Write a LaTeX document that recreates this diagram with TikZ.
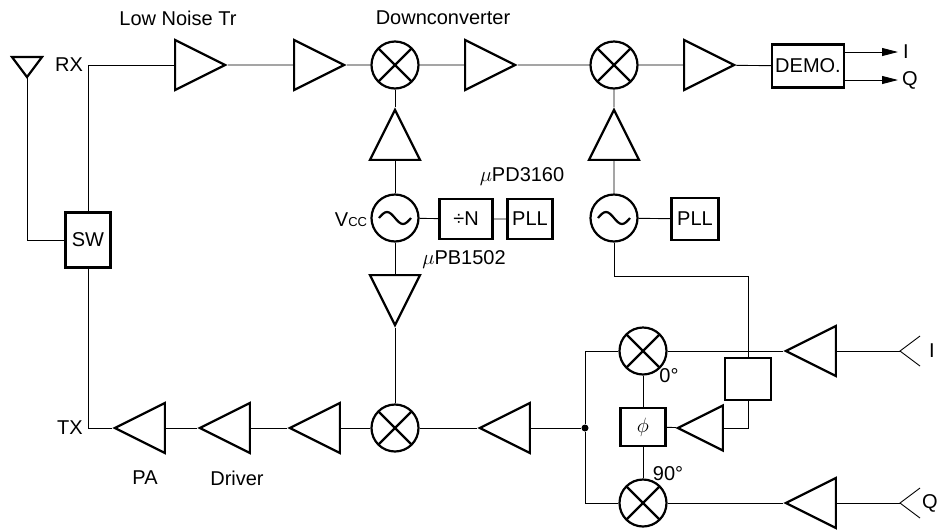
\documentclass[tikz,border=0pt]{standalone}
\usepackage{fontspec}
\setmainfont{Liberation Sans}
\usetikzlibrary{shapes.geometric,arrows.meta}
\tikzset{
  wire/.style={line width=0.9pt},
  amp/.style={draw,isosceles triangle,isosceles triangle stretches,minimum width=50pt,minimum height=50pt,inner sep=0pt,line width=2.2pt,shape border rotate=#1,anchor=apex},
  amp/.default=0,
  mixer/.style={draw,circle,minimum size=47pt,inner sep=0pt,line width=2.2pt,
    path picture={\draw[line width=2.2pt] ([shift={(45:24pt)}]path picture bounding box.center) -- ([shift={(225:24pt)}]path picture bounding box.center)
      ([shift={(135:24pt)}]path picture bounding box.center) -- ([shift={(315:24pt)}]path picture bounding box.center);}},
  osc/.style={draw,circle,minimum size=47pt,inner sep=0pt,line width=2.2pt,
    path picture={\draw[line width=2.2pt,shift={(path picture bounding box.center)}] (-16pt,0pt) sin (-8pt,6pt) cos (0pt,0pt) sin (8pt,-6pt) cos (16pt,0pt);}},
  blk/.style={draw,rectangle,line width=2.2pt,inner sep=0pt},
}
\begin{document}
\begin{tikzpicture}[x=1pt,y=-1pt,font=\fontsize{20}{23}\selectfont]
\useasboundingbox (0,0) rectangle (938,531);
% receive chain (amps placed by their apex)
\node[amp] (lna1) at (228,65) {};
\node[amp] (lna2) at (347,65) {};
\node[mixer] (mix1) at (395,65) {};
\node[amp] (if1) at (518,65) {};
\node[mixer] (mix2) at (614,65) {};
\node[amp] (if2) at (737,65) {};
\node[blk,minimum width=72pt,minimum height=43pt] (demo) at (808,66) {DEMO.};
\coordinate (iout) at (898,52);
\coordinate (qout) at (898,80);
% antenna and switch
\draw[line width=2.2pt] (12,57) -- (42,57) -- (27,77) -- cycle;
\coordinate (ant) at (27,77);
\node[blk,minimum width=45pt,minimum height=55pt] (sw) at (88,240) {SW};
% local oscillators
\node[amp=90] (lo1) at (395,107) {};
\node[osc] (osc1) at (395,218) {};
\node[amp=270] (lo3) at (395,328) {};
\node[blk,minimum width=53pt,minimum height=40pt] (divn) at (466,219) {÷N};
\node[blk,minimum width=45pt,minimum height=40pt] (pll1) at (530,219) {PLL};
\node[amp=90] (lo2) at (614,107) {};
\node[osc] (osc2) at (614,218) {};
\node[blk,minimum width=47pt,minimum height=42pt] (pll2) at (695,219) {PLL};
\coordinate (bend) at (748,276);
% transmit chain
\node[amp=180] (pa) at (112,428) {};
\node[amp=180] (drv) at (197,428) {};
\node[amp=180] (up) at (287,428) {};
\node[mixer] (mix3) at (395,428) {};
\node[amp=180] (bb) at (477,428) {};
\node[circle,fill,inner sep=0pt,minimum size=7pt] (dot) at (585,428) {};
% quadrature modulator
\node[mixer] (mixi) at (643,351) {};
\node[blk,minimum width=45pt,minimum height=38pt] (phi) at (643,427) {$\phi$};
\node[mixer] (mixq) at (643,503) {};
\node[amp=180,minimum width=45pt,minimum height=45pt] (phamp) at (675,428) {};
\node[blk,minimum width=46pt,minimum height=42pt] (sq) at (748,379) {};
\node[amp=180] (ampi) at (783,351) {};
\node[amp=180] (ampq) at (783,503) {};
\coordinate (iin) at (900,351);
\coordinate (qin) at (900,503);
% labels
\node (lnt) at (178,18) {Low Noise Tr};
\node (dcv) at (443,18) {Downconverter};
\node (rx) at (69,65) {RX};
\node (tx) at (70,428) {TX};
\node (pal) at (145,478) {PA};
\node (drl) at (237,478) {Driver};
\node (vcc) at (351,220) {V{\fontsize{13}{13}\selectfont CC}};
\node (pd) at (522,177) {$\mu$PD3160};
\node (pb) at (464,260) {$\mu$PB1502};
\node (deg0) at (669,376) {0°};
\node (deg90) at (668,474) {90°};
\node[anchor=west,inner sep=0pt] (il) at (903,52) {I};
\node[anchor=west,inner sep=0pt] (ql) at (902,80) {Q};
\node[anchor=west,inner sep=0pt] (iil) at (929,351) {I};
\node[anchor=west,inner sep=0pt] (qil) at (922,503) {Q};
% wires
\draw[wire] (ant) |- (sw);
\draw[wire] (sw) |- (lna1);
\draw[wire] (lna1) -- (lna2) -- (mix1) -- (if1) -- (mix2) -- (if2) -- (demo);
\draw[wire,-{Triangle[length=16pt,width=8pt]}] ([yshift=14pt]demo.east) -- (iout);
\draw[wire,-{Triangle[length=16pt,width=8pt]}] ([yshift=-14pt]demo.east) -- (qout);
\draw[wire] (sw) |- (pa);
\draw[wire] (pa) -- (drv) -- (up) -- (mix3) -- (bb) -- (dot);
\draw[wire] (mix1) -- (lo1) -- (osc1) -- (lo3) -- (mix3);
\draw[wire] (osc1) -- (divn) -- (pll1);
\draw[wire] (mix2) -- (lo2) -- (osc2) -- (pll2);
\draw[wire] (osc2) |- (bend) -- (sq);
\draw[wire] (sq) |- (phamp);
\draw[wire] (phamp) -- (phi);
\draw[wire] (mixi) -- (phi) -- (mixq);
\draw[wire] (dot) |- (mixi);
\draw[wire] (dot) |- (mixq);
\draw[wire] (mixi) -- (ampi) -- (iin);
\draw[wire] (mixq) -- (ampq) -- (qin);
\draw[wire] (920,336) -- (iin) -- (920,366);
\draw[wire] (920,488) -- (qin) -- (920,518);
\end{tikzpicture}
\end{document}
